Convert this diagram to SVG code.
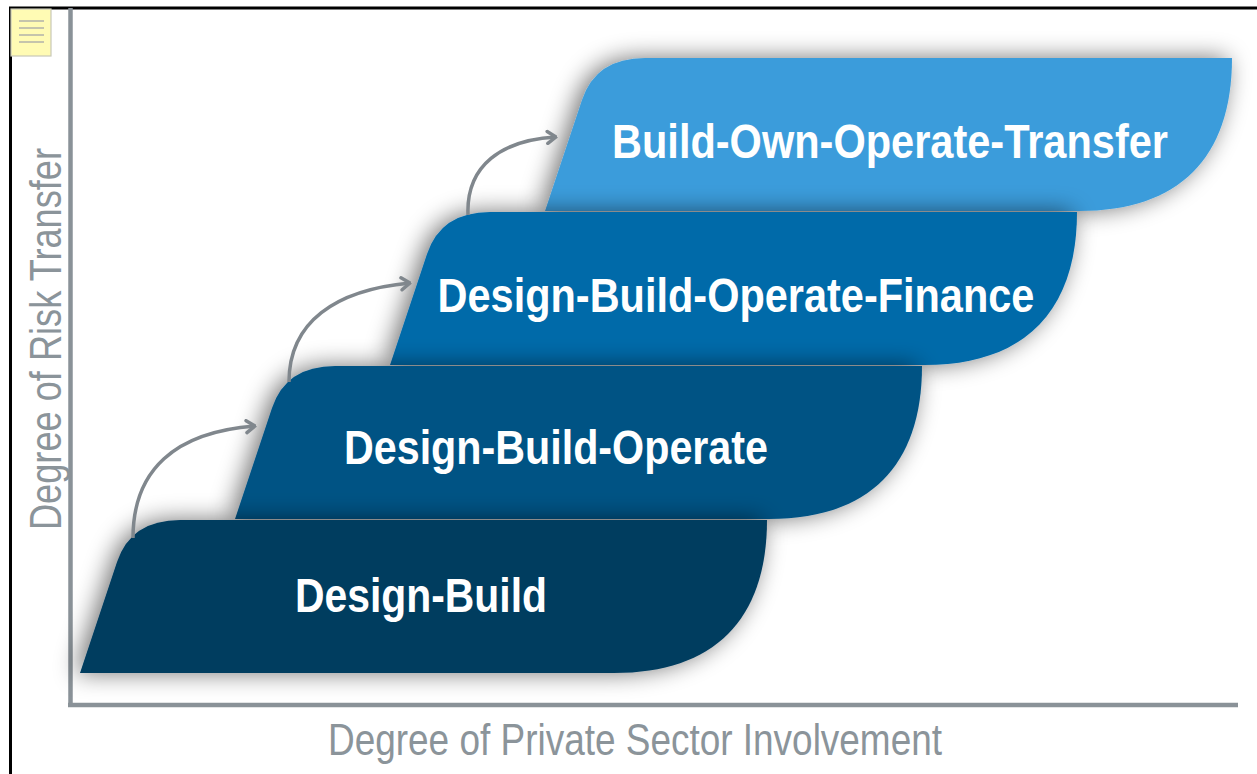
<svg xmlns="http://www.w3.org/2000/svg" width="1257" height="774" viewBox="0 0 1257 774">
<style>
.lbl{font-family:"Liberation Sans",Arial,sans-serif;font-weight:bold;font-size:49px;fill:#ffffff}
.ax{font-family:"Liberation Sans",Arial,sans-serif;font-size:45px;fill:#8b949a}
.conn{fill:none;stroke:#80878d;stroke-width:3.5;marker-end:url(#ah)}
</style>
<defs>
<filter id="sh" x="-20%" y="-40%" width="140%" height="180%">
<feGaussianBlur in="SourceAlpha" stdDeviation="12"/>
<feOffset dx="-5" dy="0"/>
<feComponentTransfer><feFuncA type="linear" slope="0.55"/></feComponentTransfer>
<feMerge><feMergeNode/><feMergeNode in="SourceGraphic"/></feMerge>
</filter>
<marker id="ah" viewBox="0 0 12 16" refX="10.5" refY="8" markerWidth="12" markerHeight="16" orient="auto" markerUnits="userSpaceOnUse">
<path d="M2,2 L10.5,8 L2,14" fill="none" stroke="#80878d" stroke-width="3.5" stroke-linecap="round" stroke-linejoin="round"/>
</marker>
<path id="step" d="M80,673 L117,562 Q131,520 180,520 L767,520 C767,620 714,673 614,673 Z"/>
</defs>
<rect width="1257" height="774" fill="#ffffff"/>
<g id="frame">
<line x1="10.5" y1="8" x2="10.5" y2="774" stroke="#000" stroke-width="3"/>
<line x1="9" y1="8" x2="1257" y2="8" stroke="#000" stroke-width="3"/>
</g>
<g id="note">
<rect x="11" y="9" width="40" height="47" fill="#fffbb4" stroke="#c9c9b8" stroke-width="1.2"/>
<g stroke="#b2b2aa" stroke-width="1.5">
<line x1="19" y1="21" x2="44" y2="21"/>
<line x1="19" y1="28" x2="44" y2="28"/>
<line x1="19" y1="35" x2="44" y2="35"/>
<line x1="19" y1="42" x2="44" y2="42"/>
</g>
</g>
<g id="axes" stroke="#8a9298" stroke-width="4.5">
<line x1="70.5" y1="8" x2="70.5" y2="707"/>
<line x1="68" y1="705" x2="1238" y2="705"/>
</g>
<g id="node-boot">
<use href="#step" transform="translate(465,-462)" fill="#3a9cdb" filter="url(#sh)"/>
<text class="lbl" transform="scale(0.8,1)" x="1112.5" y="158" text-anchor="middle" textLength="695" lengthAdjust="spacingAndGlyphs">Build-Own-Operate-Transfer</text>
</g>
<g id="node-dbof">
<use href="#step" transform="translate(310,-308)" fill="#006aa9" filter="url(#sh)"/>
<text class="lbl" transform="scale(0.8,1)" x="920" y="312" text-anchor="middle" textLength="746" lengthAdjust="spacingAndGlyphs">Design-Build-Operate-Finance</text>
</g>
<g id="node-dbo">
<use href="#step" transform="translate(155,-154)" fill="#005384" filter="url(#sh)"/>
<text class="lbl" transform="scale(0.8,1)" x="695" y="464" text-anchor="middle" textLength="530" lengthAdjust="spacingAndGlyphs">Design-Build-Operate</text>
</g>
<g id="node-db">
<use href="#step" fill="#003c5e" filter="url(#sh)"/>
<text class="lbl" transform="scale(0.8,1)" x="526.25" y="612" text-anchor="middle" textLength="315" lengthAdjust="spacingAndGlyphs">Design-Build</text>
</g>
<g id="connectors">
<path class="conn" d="M133,538 C133,470 175,432 255,426"/>
<path class="conn" d="M289,382 C289,322 335,290 410,283"/>
<path class="conn" d="M468,215 C466,165 502,140 556,137"/>
</g>
<g id="labels">
<text class="ax" x="635" y="755" text-anchor="middle" textLength="614" lengthAdjust="spacingAndGlyphs">Degree of Private Sector Involvement</text>
<text class="ax" transform="translate(61,339) rotate(-90)" x="0" y="0" text-anchor="middle" textLength="382" lengthAdjust="spacingAndGlyphs">Degree of Risk Transfer</text>
</g>
</svg>
